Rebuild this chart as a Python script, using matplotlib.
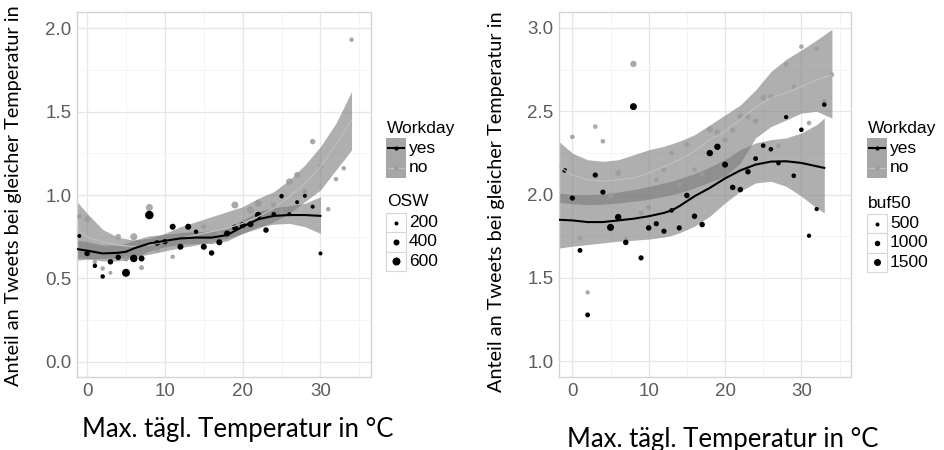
import matplotlib
matplotlib.use("Agg")
import matplotlib.pyplot as plt
from matplotlib.patches import Rectangle
from matplotlib.lines import Line2D
import numpy as np

# ---------------- data: left panel (OSW) ----------------
left_yes_x = [-1, 0, 1, 2, 3, 4, 5, 6, 7, 8, 9, 10, 11, 12, 13, 14, 15, 16, 17, 18, 19, 20,
              21, 22, 23, 24, 25, 26, 27, 28, 29, 30]
left_yes_y = [0.755, 0.65, 0.576, 0.512, 0.60, 0.627, 0.534, 0.62, 0.62, 0.88, 0.713, 0.72,
              0.81, 0.69, 0.81, 0.78, 0.69, 0.653, 0.717, 0.77, 0.805, 0.82, 0.825, 0.88,
              0.79, 0.885, 0.993, 0.885, 0.957, 0.995, 0.93, 0.65]
left_yes_osw = [200, 350, 250, 250, 350, 350, 600, 550, 400, 650, 350, 350, 400, 400, 400, 250,
                400, 350, 400, 400, 400, 400, 400, 450, 350, 250, 250, 200, 200, 200, 200, 200]

left_no_x = [-1, 0, 1, 2, 3, 4, 5, 6, 7, 8, 9, 10, 11, 15, 16, 17, 19, 20, 21, 22, 24, 25,
             26, 27, 28, 29, 30, 31, 32, 33, 34]
left_no_y = [0.873, 0.855, 0.60, 0.56, 0.534, 0.75, 0.62, 0.75, 0.565, 0.925, 0.673, 0.72,
             0.63, 0.81, 0.72, 0.77, 0.94, 0.83, 0.91, 0.95, 0.94, 0.90, 1.08, 1.12, 1.02,
             1.32, 1.17, 0.915, 1.095, 1.16, 1.93]
left_no_osw = [250, 350, 250, 250, 200, 350, 400, 500, 300, 500, 350, 400, 250, 300, 300, 400,
               500, 350, 500, 500, 350, 350, 450, 400, 350, 350, 250, 250, 250, 250, 250]

# smooth fits (left)
left_yes_fx = [-1.3, 0, 2, 4, 5, 6, 8, 10, 12, 14, 16, 18, 20, 22, 24, 26, 28, 30]
left_yes_fit = [0.676, 0.667, 0.65, 0.654, 0.66, 0.68, 0.71, 0.725, 0.74, 0.745, 0.745, 0.76,
                0.81, 0.855, 0.875, 0.88, 0.88, 0.875]
left_yes_lo = [0.625, 0.62, 0.605, 0.605, 0.612, 0.625, 0.665, 0.69, 0.705, 0.71, 0.71, 0.725,
               0.77, 0.81, 0.825, 0.83, 0.81, 0.77]
left_yes_hi = [0.73, 0.72, 0.70, 0.70, 0.71, 0.73, 0.755, 0.765, 0.775, 0.78, 0.785, 0.80,
               0.85, 0.90, 0.925, 0.935, 0.95, 0.99]

left_no_fx = [-1.3, 0, 2, 4, 6, 8, 10, 12, 14, 16, 18, 20, 22, 24, 26, 28, 30, 32, 34]
left_no_fit = [0.79, 0.75, 0.72, 0.70, 0.69, 0.70, 0.72, 0.74, 0.76, 0.78, 0.80, 0.83, 0.87,
               0.92, 0.99, 1.07, 1.17, 1.30, 1.45]
left_no_lo = [0.61, 0.615, 0.62, 0.625, 0.63, 0.645, 0.665, 0.685, 0.70, 0.72, 0.74, 0.77,
              0.80, 0.84, 0.89, 0.96, 1.03, 1.15, 1.27]
left_no_hi = [0.96, 0.89, 0.794, 0.746, 0.73, 0.74, 0.77, 0.81, 0.84, 0.87, 0.90, 0.93, 0.98,
              1.02, 1.09, 1.18, 1.29, 1.43, 1.62]

# ---------------- data: right panel (buf50) ----------------
right_yes_x = list(range(-1, 34))
right_yes_y = [2.145, 1.979, 1.665, 1.278, 2.117, 2.015, 1.803, 1.865, 1.713, 2.528, 1.62,
               1.80, 1.825, 1.78, 1.905, 1.80, 1.995, 1.87, 1.82, 2.249, 2.287, 2.18, 2.043,
               2.03, 2.137, 2.216, 2.294, 2.272, 2.189, 2.465, 2.113, 2.389, 1.753, 1.913, 2.54]
right_yes_buf = [700, 900, 800, 800, 900, 900, 1500, 1300, 1000, 1500, 900, 1000, 900, 900,
                 700, 900, 1000, 1000, 1000, 1300, 1300, 1200, 1000, 1000, 1000, 800, 700,
                 700, 700, 600, 700, 700, 600, 600, 700]

right_no_x = list(range(0, 35))
right_no_y = [2.346, 1.739, 1.413, 2.408, 2.32, 1.995, 2.13, 1.733, 2.784, 1.889, 1.925,
              2.089, 2.149, 2.249, 2.059, 2.30, 2.15, 2.123, 2.39, 2.372, 2.327, 2.387, 2.47,
              2.468, 2.442, 2.582, 2.588, 2.293, 2.782, 2.648, 2.888, 2.43, 2.876, 2.558, 2.72]
right_no_buf = [700, 600, 600, 700, 700, 1100, 1200, 700, 1300, 800, 800, 700, 700, 700, 700,
                700, 700, 900, 1200, 1200, 1000, 1000, 1100, 900, 1000, 1100, 1000, 700, 700,
                700, 700, 700, 700, 900, 700]

right_yes_fx = [-1.75, 0, 2, 4, 6, 8, 10, 12, 13, 14, 16, 18, 20, 22, 24, 26, 28, 30, 32, 33]
right_yes_fit = [1.849, 1.845, 1.835, 1.835, 1.845, 1.855, 1.87, 1.89, 1.905, 1.93, 1.99,
                 2.04, 2.097, 2.145, 2.18, 2.198, 2.20, 2.19, 2.17, 2.16]
right_yes_lo = [1.679, 1.69, 1.70, 1.71, 1.72, 1.726, 1.733, 1.745, 1.755, 1.77, 1.81, 1.87,
                1.95, 2.02, 2.07, 2.08, 2.05, 1.99, 1.92, 1.89]
right_yes_hi = [2.009, 2.0, 1.999, 2.003, 2.015, 2.03, 2.048, 2.07, 2.08, 2.095, 2.125, 2.165,
                2.21, 2.27, 2.31, 2.33, 2.34, 2.37, 2.42, 2.459]

right_no_fx = [-1.75, 0, 2, 4, 6, 8, 10, 12, 14, 16, 18, 20, 22, 24, 26, 28, 30, 32, 34]
right_no_fit = [2.168, 2.117, 2.089, 2.08, 2.089, 2.10, 2.13, 2.168, 2.209, 2.26, 2.329, 2.38,
                2.45, 2.524, 2.58, 2.61, 2.648, 2.688, 2.718]
right_no_lo = [1.953, 1.945, 1.939, 1.942, 1.95, 1.96, 1.972, 1.99, 2.01, 2.04, 2.075, 2.11,
               2.19, 2.34, 2.408, 2.448, 2.489, 2.50, 2.459]
right_no_hi = [2.318, 2.249, 2.209, 2.20, 2.209, 2.239, 2.269, 2.29, 2.32, 2.359, 2.418, 2.478,
               2.538, 2.628, 2.738, 2.812, 2.868, 2.928, 2.992]

left_size_breaks = [200, 400, 600]
right_size_breaks = [500, 1000, 1500]
workday_labels = ["yes", "no"]
xlabel = "Max. tägl. Temperatur in °C"
ylabel = "Anteil an Tweets bei gleicher Temperatur in"

# ---------------- styling ----------------
W, H = 945, 450
fig = plt.figure(figsize=(W / 100, H / 100), dpi=100)
fig.patch.set_facecolor("white")

TICK_FONT = "Liberation Sans"
LEG_FONT = ["Liberation Sans", "DejaVu Sans"]
LAB_FONT = ["Lato", "DejaVu Sans"]

BAND = "#7a7a7a"
BAND_A = 0.6
GREY_PT = "#9a9a9a"
GREY_LINE = "#bfbfbf"


def px_rect(x0, y0, x1, y1):
    return [x0 / W, 1 - y1 / H, (x1 - x0) / W, (y1 - y0) / H]


def diam_left(v):
    return (2.0 + v / 100.0) * 0.72  # pt


def diam_right(v):
    return (2.5 + 3.0 * v / 1000.0) * 0.72


def panel(rect, xlim, ylim, yticks, yes, no, fits_yes, fits_no, dfun):
    ax = fig.add_axes(rect)
    ax.set_xlim(*xlim)
    ax.set_ylim(*ylim)
    ax.set_xticks([0, 10, 20, 30])
    ax.set_xticks([5, 15, 25, 35], minor=True)
    ax.set_yticks(yticks)
    ax.set_yticks(np.array(yticks[:-1]) + 0.25, minor=True)
    ax.set_yticklabels([f"{t:.1f}" for t in yticks])
    ax.grid(True, which="major", color="#e6e6e6", lw=0.9)
    ax.grid(True, which="minor", color="#f2f2f2", lw=0.6)
    ax.set_axisbelow(True)
    for s in ax.spines.values():
        s.set_color("#d4d4d4")
        s.set_linewidth(1.0)
    ax.tick_params(which="both", length=0, colors="#5c5c5c", labelsize=13.5, pad=4,
                   labelfontfamily=TICK_FONT)
    # bands
    fx, ffit, flo, fhi = fits_no
    ax.fill_between(fx, flo, fhi, color=BAND, alpha=BAND_A, lw=0, zorder=2)
    yx, yfit, ylo, yhi = fits_yes
    ax.fill_between(yx, ylo, yhi, color=BAND, alpha=BAND_A, lw=0, zorder=2)
    # points
    nx, ny, nsz = no
    ax.scatter(nx, ny, s=[dfun(v) ** 2 for v in nsz], color=GREY_PT, alpha=0.85,
               lw=0, zorder=3)
    px, py, psz = yes
    ax.scatter(px, py, s=[dfun(v) ** 2 for v in psz], color="black", lw=0, zorder=4)
    # lines
    ax.plot(fx, ffit, color=GREY_LINE, lw=0.9, zorder=5)
    ax.plot(yx, yfit, color="black", lw=1.5, zorder=5)
    return ax


panel(px_rect(77, 12, 371, 377), (-1.3, 36.5), (-0.09, 2.096), [0.0, 0.5, 1.0, 1.5, 2.0],
      (left_yes_x, left_yes_y, left_yes_osw), (left_no_x, left_no_y, left_no_osw),
      (left_yes_fx, left_yes_fit, left_yes_lo, left_yes_hi),
      (left_no_fx, left_no_fit, left_no_lo, left_no_hi), diam_left)

panel(px_rect(559, 12, 851, 377), (-1.75, 36.5), (0.905, 3.096), [1.0, 1.5, 2.0, 2.5, 3.0],
      (right_yes_x, right_yes_y, right_yes_buf), (right_no_x, right_no_y, right_no_buf),
      (right_yes_fx, right_yes_fit, right_yes_lo, right_yes_hi),
      (right_no_fx, right_no_fit, right_no_lo, right_no_hi), diam_right)


# ---------------- legends (drawn in pixel coordinates) ----------------
def fx_(x):
    return x / W


def fy_(y):
    return 1 - y / H


def rect(x0, y0, x1, y1, fc, ec="none", lw=0.0):
    fig.patches.append(Rectangle((fx_(x0), fy_(y1)), (x1 - x0) / W, (y1 - y0) / H,
                                 transform=fig.transFigure, facecolor=fc, edgecolor=ec,
                                 lw=lw, figure=fig))


def legend(x0, title1, title2, breaks, dfun, t1y, t2y, sbox_top):
    fig.text(fx_(x0 + 1), fy_(t1y), title1, fontsize=12.5, family=LEG_FONT, color="black",
             ha="left", va="center")
    kw = 20
    for i, lab in enumerate(workday_labels):
        y0 = 138 + i * 20
        rect(x0, y0, x0 + kw, y0 + 20, fc="#a6a6a6")
        col = "black" if i == 0 else GREY_LINE
        pcol = "black" if i == 0 else GREY_PT
        fig.lines.append(Line2D([fx_(x0 + 2), fx_(x0 + kw - 2)], [fy_(y0 + 10)] * 2,
                                transform=fig.transFigure, color=col,
                                lw=1.5 if i == 0 else 1.0, figure=fig))
        fig.lines.append(Line2D([fx_(x0 + kw / 2)], [fy_(y0 + 10)], marker="o", ms=3.0,
                                mew=0, color=pcol, transform=fig.transFigure, figure=fig))
        fig.text(fx_(x0 + kw + 3), fy_(y0 + 10), lab, fontsize=12.5, family=LEG_FONT,
                 ha="left", va="center")
    fig.text(fx_(x0 + 1), fy_(t2y), title2, fontsize=12.5, family=LEG_FONT, color="black",
             ha="left", va="center")
    for i, b in enumerate(breaks):
        y0 = sbox_top + i * 19.3
        rect(x0, y0, x0 + kw, y0 + 19.3, fc="white", ec="#d6d6d6", lw=0.8)
        fig.lines.append(Line2D([fx_(x0 + kw / 2)], [fy_(y0 + 9.6)], marker="o",
                                ms=dfun(b), mew=0, color="black",
                                transform=fig.transFigure, figure=fig))
        fig.text(fx_(x0 + kw + 3), fy_(y0 + 9.6), str(b), fontsize=12.5, family=LEG_FONT,
                 ha="left", va="center")


legend(386, "Workday", "OSW", left_size_breaks, diam_left, 129, 201, 213)
legend(867, "Workday", "buf50", right_size_breaks, diam_right, 129, 203, 214)

# ---------------- axis titles ----------------
fig.text(fx_(14), fy_(386), ylabel, rotation=90, ha="center", va="bottom",
         fontsize=14.3, family=LAB_FONT, color="black")
fig.text(fx_(497), fy_(392), ylabel, rotation=90, ha="center", va="bottom",
         fontsize=14.3, family=LAB_FONT, color="black")
fig.text(fx_(238), fy_(430), xlabel, ha="center", va="center", fontsize=18.5,
         family=LAB_FONT, color="black")
fig.text(fx_(723), fy_(439), xlabel, ha="center", va="center", fontsize=18.5,
         family=LAB_FONT, color="black")

fig.savefig("out.png", dpi=100, facecolor="white")
